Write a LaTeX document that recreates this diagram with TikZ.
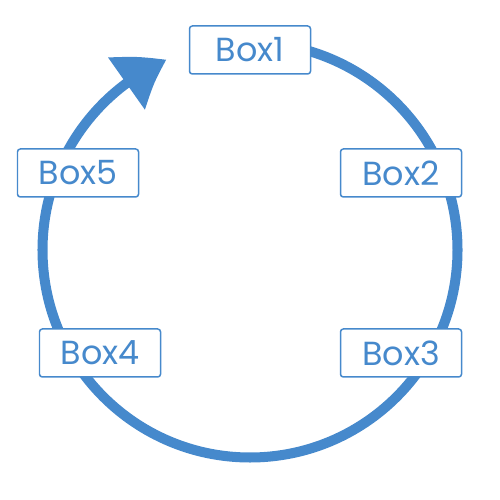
\documentclass[tikz,border=0pt]{standalone}
\usepackage{fontspec}
\setmainfont{Poppins}
\usepackage{tikz}
\usetikzlibrary{arrows.meta,bending}
\definecolor{cycleblue}{RGB}{70,137,204}
\tikzset {>=Stealth}
\tikzset{stagebox/.style={draw=cycleblue,line width=0.85pt,fill=white,rounded corners=1.6pt,
  minimum width=2.42cm,minimum height=0.96cm,inner sep=0pt,text=cycleblue,
  font=\fontsize{19}{20}\selectfont}}

\begin{document}
\begin{tikzpicture}
\useasboundingbox (0,0) rectangle (10,10);
\coordinate (c) at (5,5);
\draw[cycleblue,line width=5.7pt,-{Triangle[length=0.94cm,width=1.22cm,bend]}]
  (c) ++(90:4.15) arc[start angle=90,end angle=-246.3,radius=4.15];
\node[stagebox] (box1) at (5.0,9.0) {Box1};
\node[stagebox] (box2) at (8.02,6.54) {Box2};
\node[stagebox] (box3) at (8.02,2.94) {Box3};
\node[stagebox] (box4) at (2.0,2.94) {Box4};
\node[stagebox] (box5) at (1.56,6.54) {Box5};
\end{tikzpicture}
\end{document}
